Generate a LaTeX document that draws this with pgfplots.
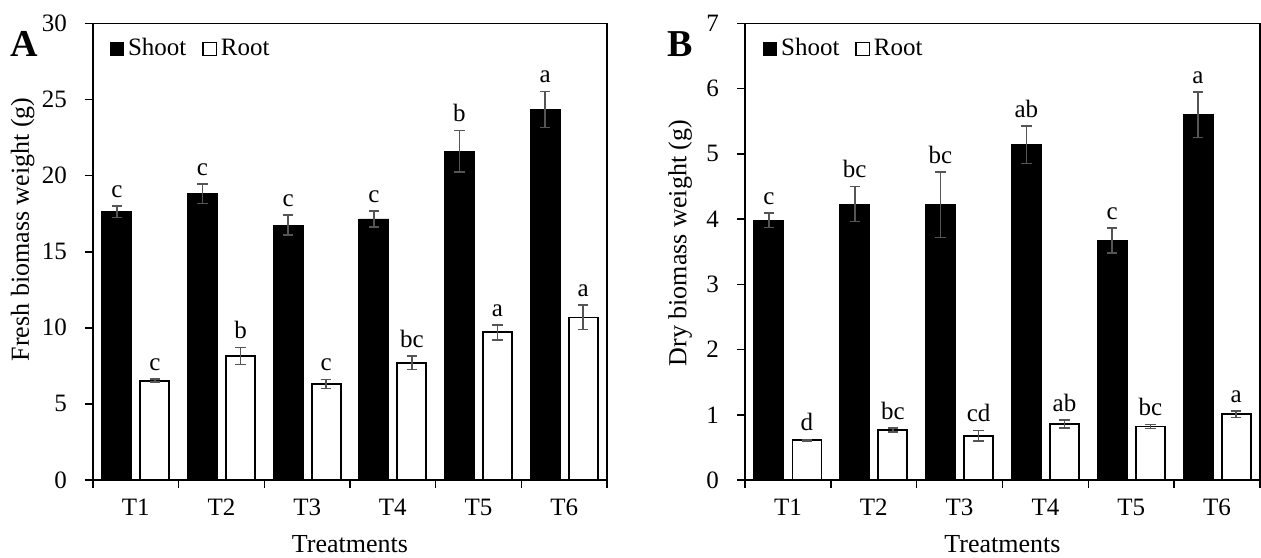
\documentclass[border=0pt]{standalone}
\usepackage{pgfplots}
\usepackage{pgfplotstable}
\pgfplotsset{compat=1.18}
\usepackage{fontspec}
\setmainfont{Liberation Serif}
\definecolor{errgray}{RGB}{85,85,85}

\pgfplotstableread{
x shoot shooterr root rooterr
0 17.63 0.38 6.52 0.10
1 18.81 0.63 8.15 0.55
2 16.75 0.67 6.30 0.30
3 17.15 0.53 7.70 0.45
4 21.60 1.37 9.70 0.50
5 24.34 1.19 10.68 0.80
}\freshtable

\pgfplotstableread{
x shoot shooterr root rooterr
0 3.98 0.11 0.61 0.01
1 4.23 0.27 0.765 0.03
2 4.22 0.50 0.68 0.08
3 5.14 0.29 0.86 0.06
4 3.67 0.19 0.82 0.03
5 5.60 0.35 1.01 0.05
}\drytable

\tikzset{
  lbl/.style={anchor=south, inner sep=0pt, yshift=4pt, font=\fontsize{12.5}{14}\selectfont},
  panel/.style={font=\bfseries\fontsize{19}{21}\selectfont, anchor=center},
}

\pgfplotsset{
  myaxis/.style={
    scale only axis, height=228.3pt, clip=false,
    xmin=-0.5, xmax=5.5, ymin=0,
    xtick={-0.5,0.5,...,5.5}, xticklabels={},
    extra x ticks={0,1,2,3,4,5},
    extra x tick labels={T1,T2,T3,T4,T5,T6},
    extra x tick style={major tick length=0pt},
    tick align=outside, tick pos=left, major tick length=4pt,
    tick style={black, line width=0.8pt},
    axis line style={line width=0.8pt},
    ticklabel style={font=\fontsize{12.5}{14}\selectfont},
    /pgf/number format/assume math mode=true,
    xticklabel style={yshift=-6pt},
    yticklabel style={xshift=-5.5pt},
    label style={font=\fontsize{13}{15}\selectfont},
    xlabel={Treatments},
    xlabel style={at={(axis description cs:0.5,-0.14)}, anchor=center, inner sep=0pt},
    legend style={draw=none, fill=none, legend columns=2,
      anchor=north west, font=\fontsize{12.5}{14}\selectfont,
      /tikz/every even column/.append style={column sep=6pt}},
    legend image code/.code={\draw[#1,line width=0.6pt] (0pt,-3.2pt) rectangle (6.6pt,3.2pt);},
    error bars/y dir=both, error bars/y explicit,
    error bars/error bar style={line width=0.8pt, color=errgray},
    error bars/error mark options={line width=0.8pt, color=errgray, mark size=2.6pt, rotate=90},
  },
  shootbar/.style={ybar, bar width=15pt, bar shift=0pt, fill=black, draw=black},
  rootbar/.style={ybar, bar width=14.5pt, bar shift=0pt, fill=white, draw=black, line width=0.9pt},
}

\begin{document}
\begin{tikzpicture}
\path[use as bounding box] (0,0) rectangle (630.5pt,278.5pt);

\begin{axis}[myaxis, at={(46.5pt,38.5pt)}, anchor=south west, width=257pt,
  ymax=30, ytick={0,5,...,30},
  ylabel={Fresh biomass weight (g)},
  ylabel style={at={(axis description cs:-0.137,0.549)}, anchor=center},
  legend style={at={(axis description cs:0.02,0.985)}}]
\addplot[shootbar] table[x expr=\thisrow{x}-0.222, y=shoot, y error=shooterr] {\freshtable};
\addlegendentry{Shoot}
\addplot[rootbar] table[x expr=\thisrow{x}+0.222, y=root, y error=rooterr] {\freshtable};
\addlegendentry{Root}
\node[lbl] at (axis cs:-0.222,18.01) {c};
\node[lbl] at (axis cs:0.778,19.44) {c};
\node[lbl] at (axis cs:1.778,17.42) {c};
\node[lbl] at (axis cs:2.778,17.68) {c};
\node[lbl] at (axis cs:3.778,22.97) {b};
\node[lbl] at (axis cs:4.778,25.53) {a};
\node[lbl] at (axis cs:0.222,6.62) {c};
\node[lbl] at (axis cs:1.222,8.70) {b};
\node[lbl] at (axis cs:2.222,6.60) {c};
\node[lbl] at (axis cs:3.222,8.15) {bc};
\node[lbl] at (axis cs:4.222,10.20) {a};
\node[lbl] at (axis cs:5.222,11.48) {a};
\node[panel] at (axis description cs:-0.134,0.954) {A};
\end{axis}

\begin{axis}[myaxis, at={(372.5pt,38.5pt)}, anchor=south west, width=257.5pt,
  ymax=7, ytick={0,1,...,7},
  ylabel={Dry biomass weight (g)},
  ylabel style={at={(axis description cs:-0.126,0.519)}, anchor=center},
  legend style={at={(axis description cs:0.022,0.985)}}]
\addplot[shootbar] table[x expr=\thisrow{x}-0.222, y=shoot, y error=shooterr] {\drytable};
\addlegendentry{Shoot}
\addplot[rootbar] table[x expr=\thisrow{x}+0.222, y=root, y error=rooterr] {\drytable};
\addlegendentry{Root}
\node[lbl] at (axis cs:-0.222,4.09) {c};
\node[lbl] at (axis cs:0.778,4.50) {bc};
\node[lbl] at (axis cs:1.778,4.72) {bc};
\node[lbl] at (axis cs:2.778,5.43) {ab};
\node[lbl] at (axis cs:3.778,3.86) {c};
\node[lbl] at (axis cs:4.778,5.95) {a};
\node[lbl] at (axis cs:0.222,0.62) {d};
\node[lbl] at (axis cs:1.222,0.795) {bc};
\node[lbl] at (axis cs:2.222,0.76) {cd};
\node[lbl] at (axis cs:3.222,0.92) {ab};
\node[lbl] at (axis cs:4.222,0.85) {bc};
\node[lbl] at (axis cs:5.222,1.06) {a};
\node[panel] at (axis description cs:-0.126,0.954) {B};
\end{axis}
\end{tikzpicture}
\end{document}
